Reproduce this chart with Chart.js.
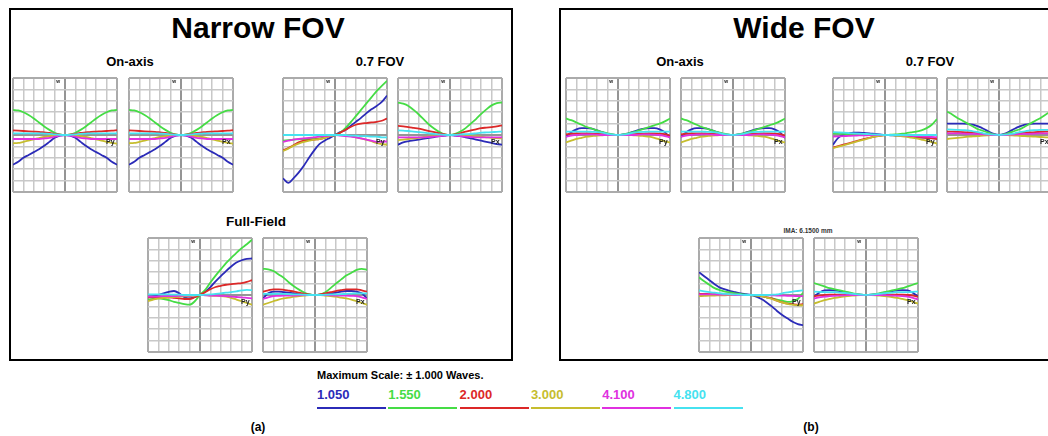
<!DOCTYPE html>
<html>
<head>
<meta charset="utf-8">
<script src="https://cdn.jsdelivr.net/npm/chart.js@4.4.0/dist/chart.umd.min.js"></script>
<style>
body{margin:0;width:1048px;height:436px;overflow:hidden;background:#fff;position:relative;font-family:"Liberation Sans",Arial,sans-serif}
.frame{position:absolute;border:2px solid #000;box-sizing:border-box}
.t{position:absolute;transform:translateX(-50%);white-space:nowrap;font-weight:bold;line-height:1;color:#000}
canvas{position:absolute}
.lg{position:absolute;font-weight:bold;font-size:13px;line-height:1}
.lgline{position:absolute;height:2px}
</style>
</head>
<body>
<div class="frame" style="left:9px;top:8px;width:504px;height:353px"></div>
<div class="frame" style="left:559px;top:8px;width:520px;height:353px"></div>

<div class="t" style="left:258px;top:13px;font-size:30px">Narrow FOV</div>
<div class="t" style="left:804px;top:13px;font-size:30px">Wide FOV</div>
<div class="t" style="left:130px;top:55px;font-size:13px">On-axis</div>
<div class="t" style="left:380px;top:55px;font-size:13px">0.7 FOV</div>
<div class="t" style="left:680px;top:55px;font-size:13px">On-axis</div>
<div class="t" style="left:930px;top:55px;font-size:13px">0.7 FOV</div>
<div class="t" style="left:256px;top:215px;font-size:13.5px">Full-Field</div>
<div class="t" style="left:808px;top:228px;font-size:6.5px;color:#333">IMA: 6.1500 mm</div>

<div class="t" style="left:317px;top:370px;font-size:11px;transform:none">Maximum Scale: &plusmn; 1.000 Waves.</div>
<div id="legend"></div>

<div class="t" style="left:258px;top:421px;font-size:12px">(a)</div>
<div class="t" style="left:811px;top:421px;font-size:12px">(b)</div>

<script>
// normalised pupil coordinate, -1 .. 1
const pupil = [-1, -0.9, -0.8, -0.7, -0.6, -0.5, -0.4, -0.3, -0.2, -0.1, 0,
               0.1, 0.2, 0.3, 0.4, 0.5, 0.6, 0.7, 0.8, 0.9, 1];

const waveLabels = ['1.050', '1.550', '2.000', '3.000', '4.100', '4.800'];
const waveColors = ['#2b2bb8', '#45dc45', '#dc2828', '#c6bd2e', '#e030e0', '#46e2f0'];

// OPD in waves, rows follow waveLabels
const narrowOnAxis = [
  [-0.52,-0.47,-0.40,-0.35,-0.30,-0.25,-0.19,-0.12,-0.05,-0.01,0,-0.01,-0.05,-0.12,-0.19,-0.25,-0.30,-0.35,-0.40,-0.47,-0.52],
  [0.44,0.43,0.40,0.35,0.29,0.22,0.15,0.09,0.04,0.01,0,0.01,0.04,0.09,0.15,0.22,0.29,0.35,0.40,0.43,0.44],
  [0.08,0.075,0.07,0.065,0.06,0.055,0.045,0.035,0.02,0.005,0,0.005,0.02,0.035,0.045,0.055,0.06,0.065,0.07,0.075,0.085],
  [-0.145,-0.14,-0.12,-0.10,-0.075,-0.055,-0.035,-0.02,-0.01,0,0,0,-0.01,-0.02,-0.035,-0.055,-0.075,-0.10,-0.12,-0.14,-0.15],
  [-0.07,-0.07,-0.07,-0.07,-0.07,-0.07,-0.06,-0.05,-0.03,-0.01,0,-0.01,-0.03,-0.05,-0.06,-0.07,-0.07,-0.07,-0.07,-0.07,-0.07],
  [0.03,0.03,0.03,0.03,0.03,0.03,0.025,0.02,0.01,0.003,0,0.003,0.01,0.02,0.025,0.03,0.03,0.03,0.03,0.03,0.03]
];
const narrow07Py = [
  [-0.76,-0.84,-0.76,-0.66,-0.54,-0.40,-0.27,-0.16,-0.10,-0.05,0,0.05,0.09,0.16,0.23,0.30,0.38,0.45,0.51,0.58,0.69],
  [-0.10,-0.09,-0.08,-0.075,-0.07,-0.07,-0.07,-0.06,-0.04,-0.02,0,0.04,0.12,0.22,0.33,0.44,0.55,0.66,0.77,0.86,0.95],
  [-0.27,-0.23,-0.18,-0.13,-0.10,-0.09,-0.08,-0.07,-0.05,-0.02,0,0.04,0.09,0.14,0.18,0.20,0.21,0.22,0.23,0.25,0.29],
  [-0.28,-0.24,-0.19,-0.15,-0.12,-0.10,-0.08,-0.07,-0.05,-0.02,0,0,-0.01,-0.02,-0.04,-0.06,-0.08,-0.11,-0.14,-0.16,-0.17],
  [-0.12,-0.10,-0.08,-0.07,-0.06,-0.05,-0.04,-0.03,-0.02,-0.01,0,-0.01,-0.02,-0.03,-0.04,-0.06,-0.08,-0.10,-0.12,-0.12,-0.11],
  [0,0,0,0,0,0,0,0,0,0,0,0,0,-0.01,-0.01,-0.02,-0.02,-0.03,-0.03,-0.04,-0.04]
];
const narrow07Px = [
  [-0.17,-0.13,-0.11,-0.095,-0.08,-0.065,-0.05,-0.035,-0.02,-0.01,0,-0.01,-0.02,-0.04,-0.06,-0.08,-0.10,-0.12,-0.14,-0.16,-0.17],
  [0.57,0.55,0.51,0.44,0.36,0.27,0.18,0.11,0.05,0.01,0,0.02,0.06,0.12,0.20,0.28,0.37,0.45,0.52,0.56,0.57],
  [0.16,0.15,0.14,0.125,0.11,0.09,0.07,0.05,0.03,0.01,0,0.01,0.03,0.06,0.08,0.10,0.12,0.13,0.14,0.15,0.17],
  [-0.09,-0.08,-0.07,-0.06,-0.05,-0.035,-0.025,-0.02,-0.01,0,0,0,-0.005,-0.01,-0.02,-0.025,-0.03,-0.04,-0.05,-0.055,-0.06],
  [-0.04,-0.04,-0.04,-0.04,-0.04,-0.04,-0.035,-0.03,-0.02,-0.01,0,-0.01,-0.02,-0.03,-0.035,-0.04,-0.04,-0.04,-0.04,-0.04,-0.04],
  [0.08,0.075,0.07,0.06,0.05,0.04,0.03,0.02,0.01,0.003,0,0.003,0.01,0.015,0.02,0.03,0.04,0.045,0.05,0.055,0.06]
];
const narrowFullPy = [
  [-0.03,-0.02,0.0,0.03,0.055,0.07,0.03,-0.04,-0.06,-0.035,0,0.06,0.14,0.24,0.33,0.42,0.50,0.57,0.61,0.635,0.64],
  [-0.08,-0.07,-0.06,-0.07,-0.09,-0.12,-0.14,-0.16,-0.17,-0.11,0,0.09,0.22,0.34,0.45,0.56,0.65,0.74,0.82,0.89,0.97],
  [-0.04,-0.04,-0.04,-0.04,-0.04,-0.05,-0.06,-0.07,-0.07,-0.04,0,0.05,0.10,0.14,0.16,0.18,0.19,0.20,0.21,0.23,0.26],
  [-0.11,-0.08,-0.06,-0.05,-0.04,-0.035,-0.03,-0.025,-0.02,-0.01,0,0,-0.01,-0.015,-0.02,-0.03,-0.05,-0.08,-0.11,-0.14,-0.17],
  [-0.03,-0.03,-0.025,-0.02,-0.02,-0.02,-0.015,-0.01,-0.01,-0.005,0,-0.005,-0.01,-0.01,-0.015,-0.02,-0.03,-0.035,-0.04,-0.05,-0.06],
  [0.01,0.01,0.01,0.01,0.01,0.005,0.005,0,0,0,0,0.005,0.01,0.02,0.03,0.04,0.05,0.065,0.08,0.09,0.085]
];
const narrowFullPx = [
  [-0.06,0.03,0.06,0.06,0.05,0.04,0.03,0.02,0.01,0.005,0,0.005,0.02,0.03,0.04,0.06,0.07,0.07,0.06,0.03,-0.06],
  [0.46,0.45,0.42,0.36,0.30,0.22,0.15,0.09,0.04,0.01,0,0.01,0.05,0.12,0.20,0.27,0.34,0.39,0.44,0.46,0.44],
  [0.06,0.08,0.10,0.10,0.09,0.075,0.06,0.04,0.02,0.005,0,0.01,0.03,0.05,0.07,0.085,0.10,0.10,0.10,0.08,0.06],
  [-0.17,-0.14,-0.11,-0.08,-0.06,-0.045,-0.03,-0.02,-0.01,0,0,0,-0.01,-0.02,-0.03,-0.045,-0.06,-0.08,-0.11,-0.14,-0.17],
  [-0.07,-0.04,-0.02,-0.015,-0.01,-0.01,-0.01,-0.005,0,0,0,0,0,-0.005,-0.01,-0.01,-0.01,-0.015,-0.02,-0.04,-0.07],
  [0.02,0.02,0.02,0.02,0.02,0.015,0.01,0.01,0.005,0,0,0,0.005,0.01,0.01,0.015,0.02,0.025,0.03,0.03,0.03]
];
const wideOnAxis = [
  [-0.03,0.05,0.10,0.12,0.12,0.11,0.08,0.05,0.02,0.005,0,0.01,0.03,0.06,0.09,0.11,0.12,0.12,0.10,0.05,-0.05],
  [0.29,0.26,0.22,0.18,0.14,0.11,0.08,0.05,0.03,0.01,0,0.01,0.03,0.05,0.08,0.11,0.14,0.17,0.20,0.24,0.29],
  [0.01,0.025,0.03,0.03,0.03,0.025,0.02,0.015,0.005,0,0,0,0.005,0.015,0.02,0.025,0.03,0.03,0.025,0.015,-0.01],
  [-0.13,-0.10,-0.07,-0.05,-0.03,-0.02,-0.01,-0.005,0,0,0,0,0,-0.005,-0.01,-0.02,-0.03,-0.05,-0.08,-0.11,-0.13],
  [-0.03,-0.01,0,0.01,0.01,0.01,0.005,0,0,0,0,0,0,0,0.005,0.01,0.01,0.005,0,-0.02,-0.04],
  [0.06,0.06,0.06,0.06,0.06,0.055,0.05,0.04,0.02,0.005,0,0.005,0.02,0.04,0.05,0.055,0.06,0.06,0.06,0.06,0.06]
];
const wide07Py = [
  [-0.17,-0.05,0.0,0.03,0.04,0.04,0.035,0.03,0.02,0.01,0,-0.005,-0.01,-0.015,-0.02,-0.03,-0.04,-0.045,-0.05,-0.055,-0.06],
  [0.03,0.025,0.02,0.015,0.01,0.008,0.005,0.003,0.001,0,0,0.005,0.01,0.02,0.03,0.045,0.06,0.08,0.12,0.18,0.28],
  [-0.22,-0.195,-0.17,-0.145,-0.12,-0.095,-0.07,-0.05,-0.03,-0.015,0,0,0,-0.005,-0.01,-0.02,-0.03,-0.04,-0.05,-0.06,-0.07],
  [-0.23,-0.205,-0.18,-0.155,-0.13,-0.105,-0.08,-0.055,-0.03,-0.015,0,0,-0.01,-0.02,-0.03,-0.045,-0.06,-0.08,-0.10,-0.125,-0.15],
  [-0.03,-0.025,-0.02,-0.015,-0.01,-0.008,-0.005,-0.003,0,0,0,0,-0.003,-0.005,-0.01,-0.015,-0.02,-0.025,-0.03,-0.035,-0.04],
  [0.05,0.045,0.04,0.035,0.03,0.025,0.02,0.015,0.01,0.005,0,0,0,0,0,0,0,0,0,0,0]
];
const wide07Px = [
  [0.20,0.20,0.20,0.20,0.195,0.18,0.15,0.11,0.06,0.02,0,0.02,0.06,0.11,0.15,0.18,0.195,0.20,0.20,0.20,0.20],
  [0.41,0.36,0.30,0.25,0.20,0.15,0.10,0.07,0.04,0.01,0,0.01,0.04,0.07,0.10,0.15,0.20,0.25,0.30,0.36,0.41],
  [0.06,0.06,0.055,0.05,0.045,0.04,0.03,0.02,0.01,0.005,0,0.005,0.01,0.02,0.03,0.04,0.045,0.05,0.055,0.06,0.06],
  [-0.07,-0.06,-0.05,-0.04,-0.03,-0.025,-0.02,-0.01,-0.005,0,0,0,-0.005,-0.01,-0.015,-0.02,-0.025,-0.03,-0.035,-0.04,-0.045],
  [0.03,0.03,0.03,0.025,0.02,0.02,0.015,0.01,0.005,0,0,0,0.005,0.01,0.015,0.02,0.02,0.025,0.03,0.03,0.03],
  [0.10,0.095,0.09,0.085,0.08,0.065,0.05,0.03,0.015,0.005,0,0.005,0.015,0.03,0.05,0.065,0.08,0.085,0.09,0.09,0.09]
];
const wideFullPy = [
  [0.40,0.33,0.26,0.19,0.13,0.10,0.07,0.05,0.03,0.015,0,-0.03,-0.07,-0.13,-0.20,-0.28,-0.35,-0.41,-0.47,-0.51,-0.53],
  [0.31,0.24,0.18,0.12,0.085,0.06,0.045,0.03,0.015,0.005,0,-0.01,-0.02,-0.04,-0.06,-0.08,-0.10,-0.12,-0.11,-0.07,0.04],
  [0.02,0.02,0.015,0.015,0.01,0.01,0.01,0.005,0,0,0,-0.005,-0.02,-0.04,-0.06,-0.10,-0.13,-0.15,-0.16,-0.17,-0.16],
  [-0.02,-0.015,-0.01,-0.01,-0.005,-0.005,0,0,0,0,0,-0.005,-0.02,-0.04,-0.07,-0.10,-0.13,-0.155,-0.17,-0.18,-0.18],
  [0.01,0.01,0.01,0.01,0.005,0.005,0.005,0,0,0,0,0,0,-0.005,-0.005,-0.01,-0.01,-0.015,-0.015,-0.02,-0.02],
  [0.08,0.065,0.05,0.04,0.03,0.02,0.015,0.01,0.005,0,0,0,0,0,0.005,0.01,0.03,0.045,0.06,0.07,0.08]
];
const wideFullPx = [
  [-0.03,0.04,0.08,0.085,0.08,0.065,0.05,0.03,0.015,0.005,0,0.005,0.015,0.03,0.05,0.065,0.08,0.085,0.08,0.04,-0.03],
  [0.21,0.18,0.15,0.12,0.10,0.08,0.06,0.04,0.02,0.005,0,0.005,0.02,0.04,0.06,0.08,0.10,0.12,0.15,0.18,0.21],
  [-0.02,-0.01,0,0.005,0.005,0.005,0.005,0,0,0,0,0,0,0,0.005,0.005,0.005,0.005,0,-0.01,-0.03],
  [-0.15,-0.12,-0.09,-0.07,-0.05,-0.035,-0.025,-0.015,-0.005,0,0,0,-0.005,-0.015,-0.025,-0.035,-0.05,-0.07,-0.09,-0.12,-0.15],
  [-0.06,-0.04,-0.03,-0.02,-0.015,-0.01,-0.005,0,0,0,0,0,0,0,-0.005,-0.01,-0.015,-0.02,-0.03,-0.05,-0.08],
  [0.06,0.055,0.05,0.05,0.05,0.04,0.035,0.025,0.015,0.005,0,0.005,0.015,0.025,0.035,0.04,0.05,0.05,0.05,0.055,0.06]
];

// where each fan sits on the page
const fans = [
  {data: narrowOnAxis, tag: 'Py', left: 12,  top: 77},
  {data: narrowOnAxis, tag: 'Px', left: 128, top: 77},
  {data: narrow07Py,   tag: 'Py', left: 282, top: 77},
  {data: narrow07Px,   tag: 'Px', left: 397, top: 77},
  {data: narrowFullPy, tag: 'Py', left: 147, top: 237},
  {data: narrowFullPx, tag: 'Px', left: 262, top: 237},
  {data: wideOnAxis,   tag: 'Py', left: 565, top: 77},
  {data: wideOnAxis,   tag: 'Px', left: 680, top: 77},
  {data: wide07Py,     tag: 'Py', left: 832, top: 77},
  {data: wide07Px,     tag: 'Px', left: 946, top: 77},
  {data: wideFullPy,   tag: 'Py', left: 698, top: 237},
  {data: wideFullPx,   tag: 'Px', left: 813, top: 237}
];

// legend under the panels
const legend = document.getElementById('legend');
waveLabels.forEach((w, i) => {
  const x = 317 + i * 71.3;
  const lab = document.createElement('div');
  lab.className = 'lg';
  lab.style.cssText = `left:${x}px;top:388px;color:${waveColors[i]}`;
  lab.textContent = w;
  legend.appendChild(lab);
  const ln = document.createElement('div');
  ln.className = 'lgline';
  ln.style.cssText = `left:${x}px;top:407px;width:69px;background:${waveColors[i]}`;
  legend.appendChild(ln);
});

const isZero = v => Math.abs(v) < 1e-6;
const isEdge = v => Math.abs(Math.abs(v) - 1) < 1e-6;

function fanAxis() {
  return {
    type: 'linear', min: -1, max: 1,
    ticks: {display: false, stepSize: 0.2},
    grid: {
      drawTicks: false,
      color: c => isZero(c.tick.value) ? '#959595' : (isEdge(c.tick.value) ? '#ababab' : '#c8c8c8'),
      lineWidth: c => (isZero(c.tick.value) || isEdge(c.tick.value)) ? 2 : 1.5
    },
    border: {display: false}
  };
}

// small "W" and Py/Px marks drawn like the ray fan software does
const fanMarks = {
  id: 'fanMarks',
  afterDatasetsDraw(chart, args, opts) {
    const {ctx, scales: {x, y}} = chart;
    ctx.save();
    ctx.fillStyle = '#222';
    ctx.textAlign = 'center';
    ctx.textBaseline = 'middle';
    ctx.font = 'bold 7px "Liberation Sans", Arial';
    ctx.fillText(opts.tag, x.getPixelForValue(0.87), y.getPixelForValue(-0.12));
    ctx.font = 'bold 5px "Liberation Sans", Arial';
    ctx.fillText('w', x.getPixelForValue(-0.13), y.getPixelForValue(0.94));
    ctx.restore();
  }
};

fans.forEach(f => {
  const cv = document.createElement('canvas');
  cv.width = 106;
  cv.height = 116;
  cv.style.left = f.left + 'px';
  cv.style.top = f.top + 'px';
  document.body.appendChild(cv);

  new Chart(cv, {
    type: 'line',
    data: {
      datasets: f.data.map((row, i) => ({
        label: waveLabels[i],
        data: row.map((v, k) => ({x: pupil[k], y: v})),
        borderColor: waveColors[i],
        borderWidth: 1.8,
        pointRadius: 0,
        cubicInterpolationMode: 'monotone',
        order: 5 - i
      }))
    },
    options: {
      responsive: false,
      animation: false,
      devicePixelRatio: 1,
      layout: {padding: 1},
      scales: {x: fanAxis(), y: fanAxis()},
      plugins: {
        legend: {display: false},
        tooltip: {enabled: false},
        fanMarks: {tag: f.tag}
      }
    },
    plugins: [fanMarks]
  });
});
</script>
</body>
</html>
